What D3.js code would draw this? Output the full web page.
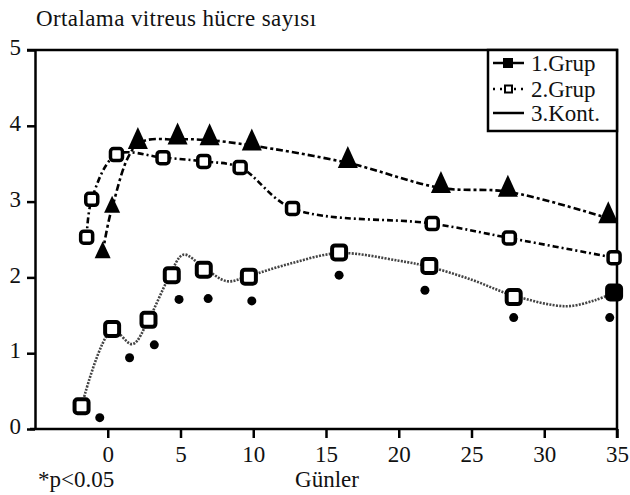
<!DOCTYPE html>
<html>
<head>
<meta charset="UTF-8">
<script src="https://cdn.jsdelivr.net/npm/d3@7"></script>
</head>
<body style="margin:0; background:#fff">
<script>
// günler (x) ve ortalama hücre sayısı (y)
const grup1Days   = [-1.8, 0.3, 2.8, 4.4, 6.6, 9.7, 15.9, 22.1, 27.9, 34.8];
const grup1Values = [0.30, 1.32, 1.44, 2.03, 2.10, 2.01, 2.33, 2.15, 1.74, 1.80];

// 1.Grup eğrisi (düzgünleştirilmiş çizgi)
const grup1LineDays   = [-1.8, 0.3, 1.7, 2.8, 4.2, 5.2, 6.6, 8.2, 9.7, 12.5, 15.9, 20, 22.1, 25, 27.9, 31.5, 33.5, 34.8];
const grup1LineValues = [0.30, 1.30, 1.12, 1.44, 2.00, 2.30, 2.13, 1.95, 2.02, 2.18, 2.32, 2.22, 2.14, 1.97, 1.76, 1.62, 1.70, 1.80];

// p<0.05 noktaları
const sigDays   = [-0.55, 1.5, 3.2, 4.9, 6.9, 9.9, 15.9, 21.8, 27.9, 34.5];
const sigValues = [0.15, 0.94, 1.11, 1.71, 1.72, 1.69, 2.03, 1.83, 1.47, 1.47];

const grup2Days   = [-1.45, -1.1, 0.6, 3.8, 6.6, 9.1, 12.7, 22.3, 27.6, 34.8];
const grup2Values = [2.53, 3.03, 3.62, 3.58, 3.53, 3.45, 2.91, 2.71, 2.52, 2.26];

const kontDays   = [-0.35, 0.3, 2.07, 4.8, 7.0, 9.9, 16.5, 22.9, 27.5, 34.4];
const kontValues = [2.32, 2.92, 3.76, 3.82, 3.81, 3.74, 3.51, 3.18, 3.13, 2.78];

const xTicks = [0, 5, 10, 15, 20, 25, 30, 35];
const yTicks = [0, 1, 2, 3, 4, 5];
const legendLabels = ["1.Grup", "2.Grup", "3.Kont."];

const width = 630, height = 495;
const marginLeft = 35, marginRight = 13, marginTop = 50, marginBottom = 66;

const x = d3.scaleLinear().domain([-5, 35]).range([marginLeft, width - marginRight]);
const y = d3.scaleLinear().domain([0, 5]).range([height - marginBottom, marginTop]);

const zip = (a, b) => a.map((d, i) => [d, b[i]]);

const svg = d3.select("body").append("svg")
    .attr("width", width)
    .attr("height", height)
    .style("display", "block");

// eksenler
svg.append("g")
    .attr("transform", `translate(0,${y(0)})`)
    .call(d3.axisBottom(x).tickValues(xTicks).tickFormat(d3.format("d")).tickSize(9).tickPadding(8).tickSizeOuter(0))
    .call(g => g.select(".domain").attr("stroke-width", 2.5).attr("d", `M${marginLeft - 5},0H${x(35)}`))
    .call(g => g.selectAll(".tick line").attr("stroke-width", 2.5));

svg.append("g")
    .attr("transform", `translate(${marginLeft},0)`)
    .call(d3.axisLeft(y).tickValues(yTicks).tickFormat(d3.format("d")).tickSize(8).tickPadding(6).tickSizeOuter(0))
    .call(g => g.select(".domain").attr("stroke-width", 2.5))
    .call(g => g.selectAll(".tick line").attr("stroke-width", 2.5))
    .call(g => g.selectAll(".tick text").attr("dy", "0.2em"));

// üst ve sağ çerçeve
svg.append("path")
    .attr("fill", "none")
    .attr("stroke", "#000")
    .attr("stroke-width", 2.5)
    .attr("d", `M${x(-5) - 8},${y(5)}H${x(35)}V${y(0) + 9}`);

const line = d3.line().x(d => x(d[0])).y(d => y(d[1]));

// çizgiler
svg.append("path")
    .datum(zip(grup1LineDays, grup1LineValues))
    .attr("fill", "none")
    .attr("stroke", "#444")
    .attr("stroke-width", 2.6)
    .attr("stroke-dasharray", "2,1.3")
    .attr("d", line.curve(d3.curveCatmullRom.alpha(0.5)));

svg.append("path")
    .datum(zip(grup2Days, grup2Values))
    .attr("fill", "none")
    .attr("stroke", "#000")
    .attr("stroke-width", 2.6)
    .attr("stroke-dasharray", "6,3,2,3")
    .attr("d", line.curve(d3.curveCatmullRom.alpha(0.5)));

svg.append("path")
    .datum(zip(kontDays, kontValues))
    .attr("fill", "none")
    .attr("stroke", "#000")
    .attr("stroke-width", 2.6)
    .attr("stroke-dasharray", "7,3,3,3")
    .attr("d", line.curve(d3.curveCatmullRom.alpha(0.5)));

// işaretler
svg.append("g")
    .selectAll("circle")
    .data(zip(sigDays, sigValues))
    .join("circle")
    .attr("cx", d => x(d[0]))
    .attr("cy", d => y(d[1]))
    .attr("r", 4.5)
    .attr("fill", "#000");

svg.append("g")
    .selectAll("path")
    .data(zip(kontDays, kontValues))
    .join("path")
    .attr("transform", d => `translate(${x(d[0])},${y(d[1])})`)
    .attr("d", (d, i) => i < 2 ? "M0,-12L-8,5L8,5Z" : "M0,-17L-10,5L10,5Z")
    .attr("fill", "#000");

svg.append("g")
    .selectAll("rect")
    .data(zip(grup2Days, grup2Values))
    .join("rect")
    .attr("x", d => x(d[0]) - 6)
    .attr("y", d => y(d[1]) - 6)
    .attr("width", 12)
    .attr("height", 12)
    .attr("rx", 3)
    .attr("fill", "#fff")
    .attr("stroke", "#000")
    .attr("stroke-width", 3.5);

svg.append("g")
    .selectAll("rect")
    .data(zip(grup1Days, grup1Values))
    .join("rect")
    .attr("x", d => x(d[0]) - 7)
    .attr("y", d => y(d[1]) - 7)
    .attr("width", 14)
    .attr("height", 14)
    .attr("rx", 3)
    .attr("fill", (d, i) => i === grup1Days.length - 1 ? "#000" : "#fff")
    .attr("stroke", "#000")
    .attr("stroke-width", 4);

// lejant
const legend = svg.append("g");
legend.append("rect")
    .attr("x", 488).attr("y", y(5))
    .attr("width", x(35) - 488).attr("height", 81)
    .attr("fill", "#fff").attr("stroke", "#000").attr("stroke-width", 2.5);

const rowY = [63, 89, 113];
legendLabels.forEach((label, i) => {
    const g = legend.append("g").attr("transform", `translate(0,${rowY[i]})`);
    g.append("line")
        .attr("x1", 493).attr("x2", 524)
        .attr("stroke", "#000").attr("stroke-width", 2.5)
        .attr("stroke-dasharray", i === 1 ? "2,5" : null);
    if (i < 2) {
        g.append("rect")
            .attr("x", i === 0 ? 504 : 505).attr("y", i === 0 ? -4 : -3.5)
            .attr("width", i === 0 ? 8 : 7).attr("height", i === 0 ? 8 : 7)
            .attr("fill", i === 0 ? "#000" : "#fff")
            .attr("stroke", "#000").attr("stroke-width", 2);
    }
    g.append("text")
        .attr("x", 531).attr("y", 8)
        .text(label);
});

// başlıklar
const title = svg.append("text")
    .attr("x", 36).attr("y", 26)
    .text("Ortalama vitreus hücre sayısı");

svg.append("text")
    .attr("x", 38).attr("y", 487)
    .text("*p<0.05");

svg.append("text")
    .attr("x", 327).attr("y", 487)
    .attr("text-anchor", "middle")
    .text("Günler");

// tüm yazılar serif
svg.selectAll("g").attr("font-family", null).attr("font-size", null);
svg.selectAll("text")
    .style("font-family", "'Liberation Serif'")
    .style("font-size", "23px")
    .attr("fill", "#111");
title.style("letter-spacing", "0.4px");
</script>
</body>
</html>
